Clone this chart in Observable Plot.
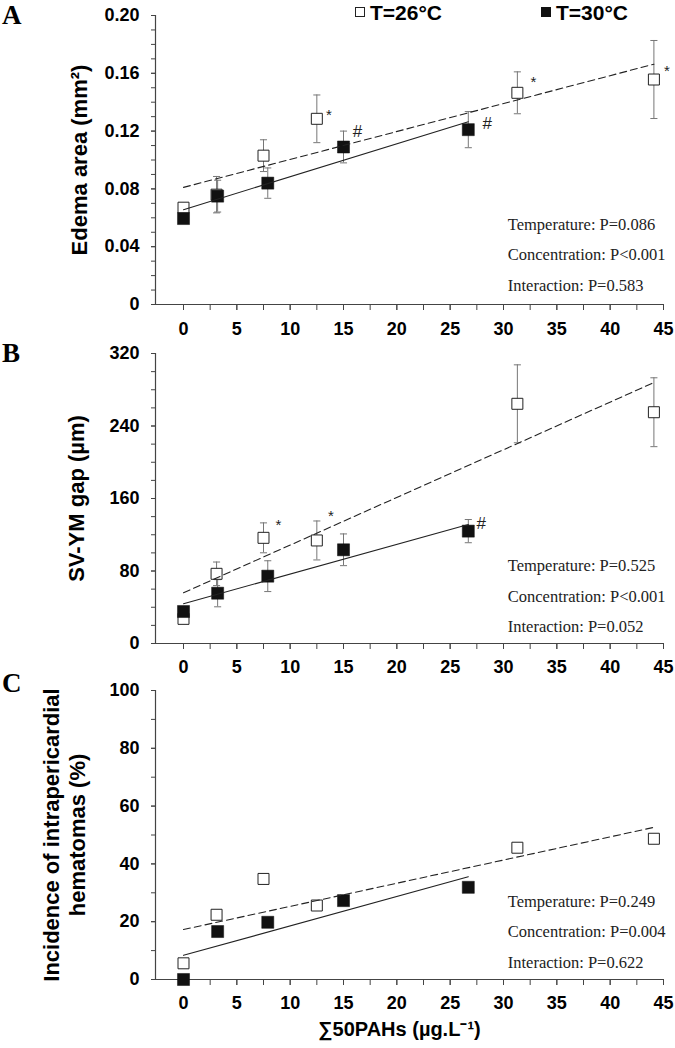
<!DOCTYPE html>
<html><head><meta charset="utf-8">
<script src="https://cdn.jsdelivr.net/npm/d3@7"></script>
<script src="https://cdn.jsdelivr.net/npm/@observablehq/plot@0.6"></script>
<style>
body{margin:0;background:#fff;}
#fig{position:relative;width:675px;height:1048px;overflow:hidden;background:#fff;}
#fig svg{display:block;}
.ov{position:absolute;white-space:nowrap;line-height:1;}
.letter{font-family:"Liberation Serif","Times New Roman",serif;font-weight:bold;font-size:27px;color:#000;}
.leg{font-family:"Liberation Sans",Arial,sans-serif;font-weight:bold;font-size:21px;color:#000;}
.sq{position:absolute;box-sizing:border-box;width:10px;height:10px;}
</style></head><body><div id="fig"></div>
<script>
// ---- data ----
const xWhite = [0, 3.1, 7.5, 12.5, 31.3, 44.1];   // T=26°C concentrations
const xBlack = [0, 3.2, 7.9, 15.0, 26.7];         // T=30°C concentrations

const edemaWhite = [0.067, 0.076, 0.103, 0.1285, 0.1465, 0.1557];
const edemaWhiteErr = [0.003, 0.0126, 0.011, 0.0165, 0.0145, 0.027];
const edemaBlack = [0.0595, 0.075, 0.084, 0.109, 0.121];
const edemaBlackErr = [0.002, 0.011, 0.0105, 0.011, 0.0125];

const gapWhite = [27.2, 76.9, 116.6, 113.7, 264.5, 255.2];
const gapWhiteErr = [3, 13, 16.5, 21.5, 43, 38];
const gapBlack = [35.3, 55.5, 74.3, 103.4, 124];
const gapBlackErr = [3, 15, 17, 17.5, 12.8];

const hemWhite = [5.6, 22.4, 34.8, 25.6, 45.6, 48.7];
const hemBlack = [0, 16.6, 19.8, 27.3, 31.9];

const xTickLabels = [0, 5, 10, 15, 20, 25, 30, 35, 40, 45];
const xMinorTicks = d3.range(0, 46, 2.5);
const xDomain = [-2.625, 45];

const legendLabels = ["T=26°C", "T=30°C"];
const panelLetters = ["A", "B", "C"];

const statsA = ["Temperature: P=0.086", "Concentration: P<0.001", "Interaction: P=0.583"];
const statsB = ["Temperature: P=0.525", "Concentration: P<0.001", "Interaction: P=0.052"];
const statsC = ["Temperature: P=0.249", "Concentration: P=0.004", "Interaction: P=0.622"];

const sigA = [{s: "w", i: 3, t: "*"}, {s: "w", i: 4, t: "*"}, {s: "w", i: 5, t: "*"}, {s: "b", i: 3, t: "#"}, {s: "b", i: 4, t: "#"}];
const sigB = [{s: "w", i: 2, t: "*"}, {s: "w", i: 3, t: "*"}, {s: "b", i: 4, t: "#"}];

const xLabel = "∑50PAHs (µg.L⁻¹)";

// ---- helpers ----
const capSymbol = {draw(ctx, size) { const w = Math.sqrt(size) / 2; ctx.moveTo(-w, 0); ctx.lineTo(w, 0); }};
const AX = "#444";
const sans = "Liberation Sans, Arial, sans-serif";

function rows(xs, ys, es) { return xs.map((x, i) => ({x, y: ys[i], e: es ? es[i] : null})); }

function panel(o) {
  const white = rows(xWhite, o.yWhite, o.yWhiteErr);
  const black = rows(xBlack, o.yBlack, o.yBlackErr);
  const marks = [
    Plot.ruleX([xDomain[0]], {stroke: AX, strokeWidth: 1.2}),
    Plot.ruleY([o.yDomain[0]], {stroke: AX, strokeWidth: 1.2}),
    Plot.axisY({ticks: o.yMinor, tickSize: 4, tickFormat: () => "", label: null, stroke: AX}),
    Plot.axisY({ticks: o.yMajor, tickSize: 4, tickPadding: 12, tickFormat: o.yFormat, label: null, stroke: AX, fontSize: 18, fontWeight: "bold", fill: "#000"}),
    Plot.axisX({ticks: xMinorTicks, tickSize: 6, tickFormat: () => "", label: null, stroke: AX}),
    Plot.axisX({ticks: xTickLabels, tickSize: 6, tickPadding: o.xPad, label: null, stroke: AX, fontSize: 18, fontWeight: "bold", fill: "#000"}),
    Plot.text([o.yLabel], {frameAnchor: "left", rotate: -90, dx: o.yLabelDx, textAnchor: "middle", lineAnchor: "middle", fontSize: 22, fontWeight: "bold", lineHeight: 1.2, fill: "#000"})
  ];
  if (o.yWhiteErr) {
    for (const [d, col] of [[white, "#777"], [black, "#777"]]) {
      marks.push(Plot.ruleX(d, {x: "x", y1: r => r.y - r.e, y2: r => r.y + r.e, stroke: col, strokeWidth: 1}));
      marks.push(Plot.dot(d, {x: "x", y: r => r.y + r.e, symbol: capSymbol, r: 4, stroke: col, fill: "none", strokeWidth: 1}));
      marks.push(Plot.dot(d, {x: "x", y: r => r.y - r.e, symbol: capSymbol, r: 4, stroke: col, fill: "none", strokeWidth: 1}));
    }
  }
  marks.push(
    Plot.dot(white, {x: "x", y: "y", symbol: "square", r: 6.2, fill: "white", stroke: "#222", strokeWidth: 1}),
    Plot.dot(black, {x: "x", y: "y", symbol: "square", r: 6.8, fill: "#111", stroke: "#111", strokeWidth: 0.5}),
    Plot.linearRegressionY(white, {x: "x", y: "y", ci: 0, stroke: "#222", strokeWidth: 1.1, strokeDasharray: "7,4"}),
    Plot.linearRegressionY(black, {x: "x", y: "y", ci: 0, stroke: "#222", strokeWidth: 1.1}),
    Plot.text([{x: o.statsX, y: o.statsY, t: o.stats.join("\n")}], {x: "x", y: "y", text: "t", textAnchor: "start", lineAnchor: "middle", lineHeight: 1.85, fontFamily: "Liberation Serif, Times New Roman, serif", fontSize: 16.5, fontWeight: "normal", fill: "#222"})
  );
  for (const a of (o.sig || [])) {
    const src = a.s === "w" ? white : black;
    marks.push(Plot.text([src[a.i]], {x: "x", y: "y", text: () => a.t, dx: a.dx, dy: a.dy, fontSize: a.t === "*" ? 15 : 17, fontWeight: "normal", fill: "#222", textAnchor: "middle"}));
  }
  if (o.xLabel) {
    marks.push(Plot.text([o.xLabel], {frameAnchor: "bottom", dx: -10, dy: 56, fontSize: 20, fontWeight: "bold", fill: "#000"}));
  }
  return Plot.plot({
    width: 675, height: o.height,
    marginLeft: 155, marginRight: 12, marginTop: o.marginTop, marginBottom: o.marginBottom,
    x: {domain: xDomain, axis: null},
    y: {domain: o.yDomain, axis: null},
    style: {fontFamily: sans, fontSize: "18px", fontWeight: "bold", color: "#000", background: "white", overflow: "visible"},
    marks
  });
}

const offsA = [[12, -4], [16, -11], [13, -8], [14, -15], [19, -6]];
sigA.forEach((a, k) => { a.dx = offsA[k][0]; a.dy = offsA[k][1]; });
const offsB = [[15, -13], [14, -24], [13, -8]];
sigB.forEach((a, k) => { a.dx = offsB[k][0]; a.dy = offsB[k][1]; });

const fig = document.getElementById("fig");

fig.appendChild(panel({
  yWhite: edemaWhite, yWhiteErr: edemaWhiteErr, yBlack: edemaBlack, yBlackErr: edemaBlackErr,
  yDomain: [0, 0.2], yMajor: d3.range(0, 0.2001, 0.04).map(v => +v.toFixed(2)), yMinor: d3.range(0, 21).map(i => i / 100),
  yFormat: d => d === 0 ? "0" : d.toFixed(2), yLabel: "Edema area (mm²)", yLabelDx: -77,
  stats: statsA, statsX: 30.4, statsY: 0.0374, sig: sigA,
  height: 340, marginTop: 15, marginBottom: 36, xPad: 12
}));
fig.appendChild(panel({
  yWhite: gapWhite, yWhiteErr: gapWhiteErr, yBlack: gapBlack, yBlackErr: gapBlackErr,
  yDomain: [0, 320], yMajor: d3.range(0, 321, 80), yMinor: d3.range(0, 321, 20),
  yFormat: d => String(d), yLabel: "SV-YM gap (µm)", yLabelDx: -80,
  stats: statsB, statsX: 30.4, statsY: 56.6, sig: sigB,
  height: 340, marginTop: 13, marginBottom: 37, xPad: 11
}));
fig.appendChild(panel({
  yWhite: hemWhite, yWhiteErr: null, yBlack: hemBlack, yBlackErr: null,
  yDomain: [0, 100], yMajor: d3.range(0, 101, 20), yMinor: d3.range(0, 101, 10),
  yFormat: d => String(d), yLabel: "Incidence of intrapericardial\nhematomas (%)", yLabelDx: -92,
  stats: statsC, statsX: 30.4, statsY: 18.0, sig: [],
  height: 368, marginTop: 10, marginBottom: 69, xPad: 11, xLabel
}));

// overlays: panel letters and legend
const letterTops = [2, 340, 670];
panelLetters.forEach((t, i) => {
  const d = document.createElement("div");
  d.className = "ov letter"; d.textContent = t;
  d.style.left = "2px"; d.style.top = letterTops[i] + "px";
  fig.appendChild(d);
});
const legX = [355, 541];
legendLabels.forEach((t, i) => {
  const sq = document.createElement("div");
  sq.className = "sq";
  sq.style.left = legX[i] + "px"; sq.style.top = "7px";
  sq.style.background = i === 0 ? "#fff" : "#111";
  sq.style.border = "1px solid " + (i === 0 ? "#222" : "#111");
  fig.appendChild(sq);
  const d = document.createElement("div");
  d.className = "ov leg"; d.textContent = t;
  d.style.left = (legX[i] + 15) + "px"; d.style.top = "2px";
  fig.appendChild(d);
});
</script></body></html>
